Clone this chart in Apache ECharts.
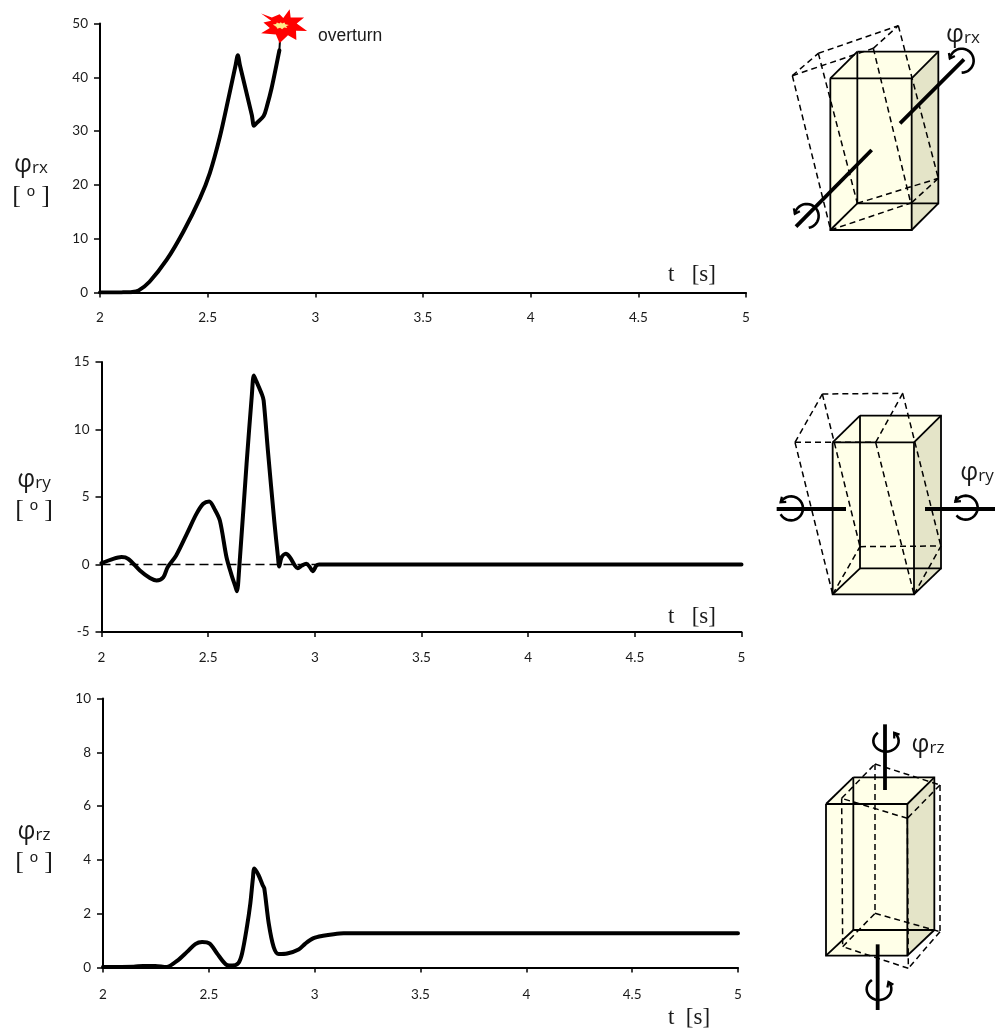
<!DOCTYPE html>
<html><head><meta charset="utf-8">
<style>html,body{margin:0;padding:0;background:#fff}#c{width:997px;height:1032px}</style>
<script src="https://cdn.jsdelivr.net/npm/echarts@6/dist/echarts.min.js"></script>
</head><body><div id="c"></div>
<script>
// ---- data: [t, value]
const rxSeries=[[2,0],[2.1,0.02],[2.15,0.1],[2.18,0.4],[2.23,2.0],[2.31,6.1],[2.387,11.3],[2.464,17.5],[2.51,22.2],[2.557,29],[2.596,36],[2.63,42.3],[2.64,44.1],[2.65,42.2],[2.705,33],[2.715,31],[2.725,31.4],[2.76,32.8],[2.775,34.6],[2.797,38],[2.833,45]];
const rxLink=[[2.833,45],[2.84,49.5]];
const overturnPoint=[[2.855,49.5]];
const overturnCore=[[2.84,49.6]];
const rySeries=[[2,0.1],[2.055,0.42],[2.094,0.55],[2.125,0.42],[2.18,-0.44],[2.227,-1.0],[2.258,-1.18],[2.29,-0.94],[2.31,-0.2],[2.35,0.67],[2.4,2.27],[2.445,3.75],[2.477,4.5],[2.505,4.67],[2.53,4.1],[2.555,3.25],[2.586,0.54],[2.61,-0.8],[2.627,-1.6],[2.635,-1.98],[2.645,-0.4],[2.68,7.45],[2.705,12.6],[2.714,14],[2.725,13.6],[2.752,12.6],[2.76,12.15],[2.78,8.44],[2.81,3.2],[2.827,0.6],[2.833,-0.15],[2.844,0.54],[2.864,0.79],[2.883,0.54],[2.906,-0.07],[2.92,-0.27],[2.94,-0.07],[2.96,0.05],[2.977,-0.2],[2.99,-0.5],[3.008,-0.07],[3.02,0],[5,0]];
const ryZero=[[2,0],[5.035,0]];
const rzSeries=[[2,0.02],[2.145,0.03],[2.19,0.06],[2.247,0.06],[2.3,0.02],[2.35,0.25],[2.397,0.58],[2.436,0.87],[2.468,0.95],[2.504,0.89],[2.539,0.52],[2.586,0.09],[2.61,0.07],[2.64,0.17],[2.657,0.52],[2.68,1.51],[2.696,2.38],[2.708,3.3],[2.715,3.68],[2.735,3.43],[2.755,3.05],[2.762,2.94],[2.783,1.64],[2.806,0.77],[2.83,0.5],[2.87,0.52],[2.924,0.67],[2.956,0.89],[2.995,1.09],[3.04,1.18],[3.09,1.24],[3.137,1.27],[5,1.27]];

// ---- chart styling
const tickFont={fontFamily:'Lato',fontSize:13.5,color:'#1a1a1a'};
const grids=[
 {left:100,top:23.5,width:646,height:269,min:0,max:50,step:10,m:18},
 {left:101.5,top:362,width:640,height:270,min:-5,max:15,step:5,m:19},
 {left:103,top:698.5,width:635,height:269,min:0,max:10,step:2,m:20}
];
const starPath='path://M-68,-38 L-36,-26 L-13,-36 L-2,-24 L17,-51 L20,-26 L60,-26 L38,-8 L69,15 L36,14 L37,42 L12,28 L-13,52 L-24,26 L-68,22 L-42,6 L-61,-11 L-38,-16 Z';
const flarePath='path://M-20,-4 L-12,-6 L-10,-10 L-4,-7 L0,-11 L3,-7 L9,-10 L11,-5 L20,-3 L13,1 L16,6 L8,4 L3,9 L-2,5 L-9,8 L-11,3 Z';
const curve=(i,d,w)=>({type:'line',xAxisIndex:i,yAxisIndex:i,data:d,showSymbol:false,symbol:'none',silent:true,z:4,smooth:0.3,
  lineStyle:{color:'#000',width:w,cap:'round',join:'round'}});

// ---- illustration helpers (picture-space drawing, not chart data)
const gfx=[];
const P=(o,p)=>p.map(q=>[o[0]+q[0]/3,o[1]+q[1]/3]);
const poly=(pts,fill)=>gfx.push({type:'polygon',shape:{points:pts},style:{fill:fill,stroke:null},z:1});
const solid=(pts,w)=>gfx.push({type:'polyline',shape:{points:pts},style:{stroke:'#000',lineWidth:w||1.8,fill:null,lineCap:'butt'},z:3});
const dash=(pts)=>gfx.push({type:'polyline',shape:{points:pts},style:{stroke:'#000',lineWidth:1.5,fill:null,lineDash:[6,4]},z:2});
function box(o,f,b){ // f,b: [x0,y0,x1,y1] of the front and back faces (zoom units)
  const [a,c,d,e]=f,[g,h,i,j]=b;
  poly(P(o,[[a,c],[g,h],[i,h],[d,c],[d,e],[a,e]]),'#ffffe8');
  poly(P(o,[[d,c],[i,h],[i,j],[d,e]]),'#e4e4c8');
  solid(P(o,[[a,c],[d,c],[d,e],[a,e],[a,c]]));
  solid(P(o,[[g,h],[i,h],[i,j],[g,j],[g,h]]));
  solid(P(o,[[a,c],[g,h]]));solid(P(o,[[d,c],[i,h]]));solid(P(o,[[d,e],[i,j]]));solid(P(o,[[a,e],[g,j]]));
}
function curl(o,cx,cy,rx,ry,start,end){ // curled rotation arrow
  const pts=[];const N=24;
  for(let k=0;k<=N;k++){const t=(start+(end-start)*k/N)*Math.PI/180;pts.push([cx+rx*Math.cos(t),cy+ry*Math.sin(t)]);}
  solid(P(o,pts),2.6);
  const l=pts[N],u=pts[N-3];const an=Math.atan2(l[1]-u[1],l[0]-u[0]);
  const s=17,back=Math.PI*0.8;
  solid(P(o,[[l[0]+s*Math.cos(an+back),l[1]+s*Math.sin(an+back)],l,[l[0]+s*Math.cos(an-back),l[1]+s*Math.sin(an-back)]]),2.2);
}
const txt=(x,y,rich,text,align)=>gfx.push({type:'text',x:x,y:y,z:5,style:{text:text,rich:rich,align:align||'center',verticalAlign:'middle',fill:'#1a1a1a'}});
const phiRich={p:{fontFamily:'Open Sans',fontSize:25,fill:'#1a1a1a'},s:{fontFamily:'Open Sans',fontSize:17,fill:'#1a1a1a',padding:[7,0,0,0]}};
const unitRich={b:{fontFamily:'Liberation Serif',fontSize:26,fill:'#1a1a1a'},o:{fontFamily:'Liberation Sans',fontSize:15,fill:'#1a1a1a',padding:[0,6,8,6]}};
const tRich={a:{fontFamily:'Liberation Serif',fontSize:23,fill:'#1a1a1a'}};

// box 1
let o=[760,10];
box(o,[211,205,455,660],[292,125,535,580]);
[[[97,197],[340,115]],[[175,130],[415,47]],[[97,197],[175,130]],[[340,115],[415,47]],[[97,197],[212,660]],[[175,130],[292,580]],[[340,115],[452,578]],[[415,47],[535,505]],[[212,660],[455,578]],[[292,580],[535,505]],[[455,578],[535,505]]].forEach(s=>dash(P(o,s)));
solid(P(o,[[420,340],[612,148]]),3.8);solid(P(o,[[335,420],[108,650]]),3.8);
curl(o,605,152,36,36,90,-170);
curl(o,140,618,36,36,80,-170);
// box 2
o=[760,380];
box(o,[218,187,462,643],[300,107,543,565]);
[[[105,187],[347,187]],[[187,42],[428,40]],[[105,187],[187,42]],[[347,187],[428,40]],[[105,187],[218,643]],[[187,42],[300,500]],[[347,187],[462,643]],[[428,40],[543,500]],[[300,500],[543,498]],[[218,643],[300,500]],[[462,643],[543,498]]].forEach(s=>dash(P(o,s)));
solid(P(o,[[50,387],[258,387]]),3.8);solid(P(o,[[495,387],[705,387]]),3.8);
curl(o,93,385,36,36,150,-150);
curl(o,617,383,36,36,140,-150);
// box 3
o=[780,715];
box(o,[138,267,382,722],[220,187,463,645]);
[[[185,250],[285,147]],[[285,147],[480,210]],[[480,210],[382,310]],[[382,310],[185,250]],[[185,250],[188,695]],[[285,147],[285,595]],[[480,210],[480,650]],[[382,310],[385,760]],[[188,695],[285,595]],[[285,595],[480,650]],[[480,650],[385,760]],[[385,760],[188,695]]].forEach(s=>dash(P(o,s)));
solid(P(o,[[315,28],[315,225]]),3.8);solid(P(o,[[293,688],[293,885]]),3.8);
curl(o,318,78,38,32,230,-50);
curl(o,297,822,37,33,235,-40);

// texts
txt(31,165,phiRich,'{p|φ}{s|rx}');
txt(31,196,unitRich,'{b|[}{o|o}{b|]}');
txt(34,480,phiRich,'{p|φ}{s|ry}');
txt(34,510,unitRich,'{b|[}{o|o}{b|]}');
txt(34,832,phiRich,'{p|φ}{s|rz}');
txt(34,862,unitRich,'{b|[}{o|o}{b|]}');
txt(692,275,tRich,'{a|t   [s]}');
txt(692,617,tRich,'{a|t   [s]}');
txt(689,1018,tRich,'{a|t  [s]}');
txt(318,36.5,{a:{fontFamily:'Liberation Sans',fontSize:17.5,fill:'#1a1a1a'}},'{a|overturn}','left');
txt(963,35,phiRich,'{p|φ}{s|rx}');
txt(977,473,phiRich,'{p|φ}{s|ry}');
txt(928,745,phiRich,'{p|φ}{s|rz}');

const option={
 animation:false,backgroundColor:'#fff',
 grid:grids.map(g=>({left:g.left,top:g.top,width:g.width,height:g.height,containLabel:false})),
 xAxis:grids.map((g,i)=>({type:'value',gridIndex:i,min:2,max:5,interval:0.5,
   axisLine:{onZero:false,lineStyle:{color:'#000',width:2}},
   axisTick:{show:true,inside:false,length:5,lineStyle:{color:'#000',width:1.5}},
   axisLabel:Object.assign({margin:g.m,hideOverlap:false,showMinLabel:true,showMaxLabel:true},tickFont),
   splitLine:{show:false}})),
 yAxis:grids.map((g,i)=>({type:'value',gridIndex:i,min:g.min,max:g.max,interval:g.step,
   axisLine:{show:true,onZero:false,lineStyle:{color:'#000',width:2}},
   axisTick:{show:true,inside:false,length:6,lineStyle:{color:'#000',width:1.5}},
   axisLabel:Object.assign({margin:12,showMinLabel:true,showMaxLabel:true},tickFont),
   splitLine:{show:false}})),
 series:[
  curve(0,rxSeries,4),
  Object.assign(curve(0,rxLink,2),{clip:false,smooth:false}),
  {type:'scatter',xAxisIndex:0,yAxisIndex:0,data:overturnPoint,symbol:starPath,symbolSize:[46,34],clip:false,silent:true,z:6,itemStyle:{color:'#ff0000',opacity:1}},
  {type:'scatter',xAxisIndex:0,yAxisIndex:0,data:overturnCore,symbol:flarePath,symbolSize:[16,7],clip:false,silent:true,z:7,itemStyle:{color:'#ffe98a',opacity:1}},
  Object.assign(curve(1,ryZero,1.6),{clip:false,z:3,smooth:false,lineStyle:{color:'#000',width:1.6,type:[9,5]}}),
  curve(1,rySeries,4),
  curve(2,rzSeries,4)
 ],
 graphic:{elements:gfx}
};
echarts.init(document.getElementById('c'),null,{renderer:'canvas'}).setOption(option);
</script></body></html>
